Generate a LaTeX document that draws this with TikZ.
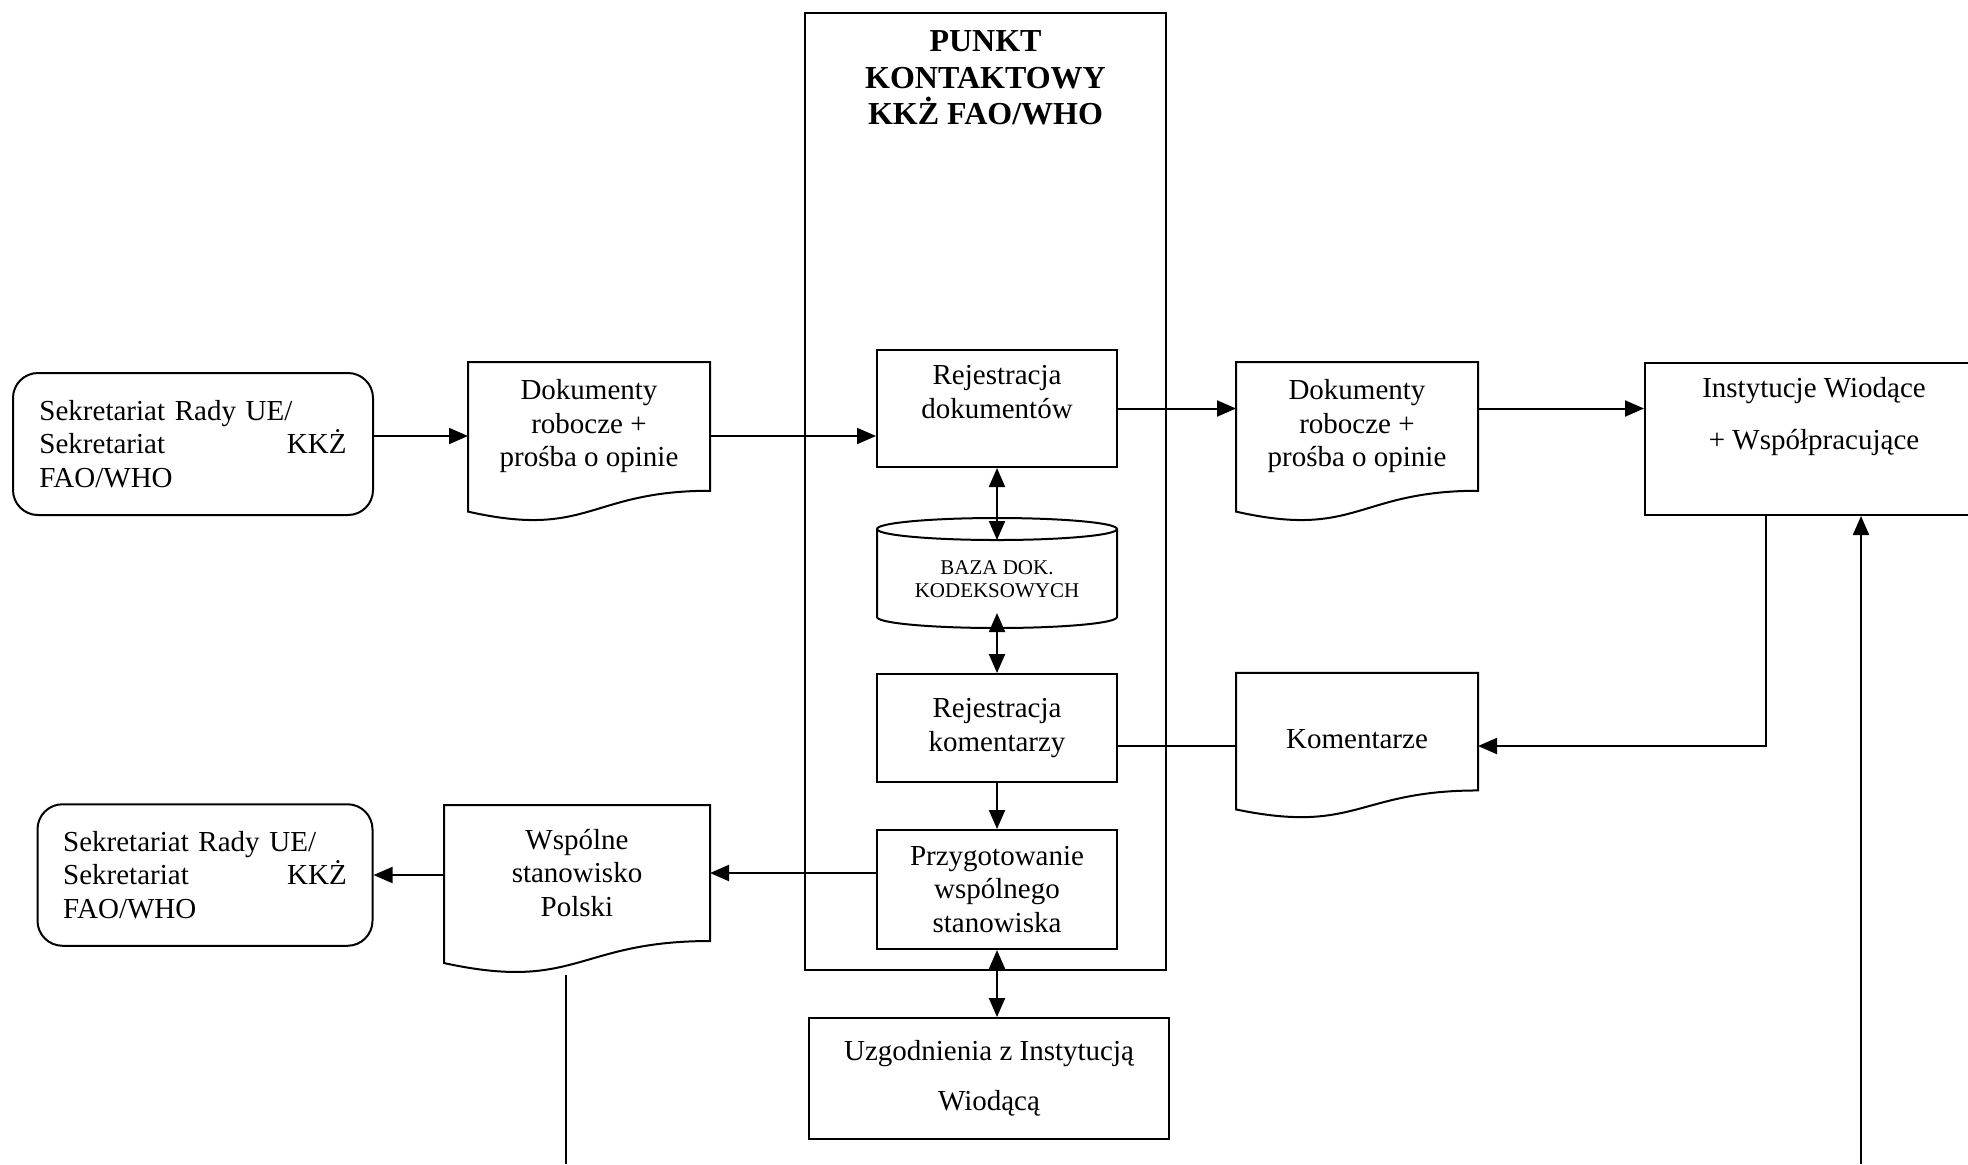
\documentclass[tikz,border=0pt]{standalone}
\usepackage{fontspec}
\setmainfont{Liberation Serif}
\usetikzlibrary{arrows.meta,calc}

\begin{document}
\begin{tikzpicture}[x = 0.5pt, y = -0.5pt, line width = 1pt,
    font = \fontsize{14.5}{16.7}\selectfont,
    arr/.style = {-{Triangle[length=9.5pt,width=8pt]}},
    dwa/.style = {{Triangle[length=9.5pt,width=8pt]}-{Triangle[length=9.5pt,width=8pt]}},
    blok/.style = {draw, rectangle, align=center, inner sep=0pt},
    sekr/.style = {draw, rounded corners=12.5pt, align=left, inner sep=0pt},
    dokument/.style = {rectangle, align=center, inner sep=0pt}]
    \useasboundingbox (0,0) rectangle (1968,1164);

    \node[blok, minimum width=180.5pt, minimum height=478.5pt] (punkt) at (985.5,491.5) {};
    \node[align=center, font=\fontsize{16}{18.2}\selectfont\bfseries] (tytul) at (985.5,78)
        {PUNKT\\KONTAKTOWY\\KKŻ FAO/WHO};

    \node[sekr, minimum width=180pt, minimum height=71pt, text width=153.5pt] (sek1) at (193,444)
        {Sekretariat Rady UE/\\Sekretariat\hfill KKŻ\\FAO/WHO};
    \node[sekr, minimum width=167.5pt, minimum height=70.75pt, text width=141.8pt] (sek2) at (205,875)
        {Sekretariat Rady UE/\\Sekretariat\hfill KKŻ\\FAO/WHO};

    \node[dokument, minimum width=120pt, minimum height=63.35pt] (doca) at (589,426.4)
        {Dokumenty\\robocze +\\prośba o opinie};
    \node[dokument, minimum width=120pt, minimum height=63.35pt] (docb) at (1357,426.4)
        {Dokumenty\\robocze +\\prośba o opinie};
    \node[dokument, minimum width=120pt, minimum height=57.75pt] (koment) at (1357,731.7)
        {\raisebox{-3.5pt}[10pt][0pt]{Komentarze}};
    \node[dokument, minimum width=132pt, minimum height=67pt] (wspolne) at (577,873)
        {Wspólne\\stanowisko\\Polski};
    \foreach \d/\h in {doca/158, docb/158, koment/144, wspolne/167}
        \draw (\d.north west) -- (\d.north east) -- (\d.south east)
        .. controls (\d.south) and ($(\d.south)+(0,0.3056*\h)$) ..
        ($(\d.south west)+(0,0.1319*\h)$) -- cycle;

    \node[blok, minimum width=120pt, minimum height=58.5pt] (rejdok) at (997,408.5)
        {Rejestracja\\dokumentów\\\mbox{}};
    \node[align=center, font=\fontsize{10.5}{11.5}\selectfont] (baza) at (997,579)
        {BAZA DOK.\\KODEKSOWYCH};
    \draw (baza.center) ++(0,-50) ellipse [x radius=60pt, y radius=5.5pt];
    \draw (baza.center) ++(-120,-50) -- ++(0,88)
        arc [start angle=180, end angle=360, x radius=60pt, y radius=5.5pt] -- ++(0,-88);
    \node[blok, minimum width=120pt, minimum height=54pt] (rejkom) at (997,728)
        {Rejestracja\\komentarzy};
    \node[blok, minimum width=120pt, minimum height=59.5pt] (przyg) at (997,889.5)
        {Przygotowanie\\wspólnego\\stanowiska};
    \node[blok, minimum width=180pt, minimum height=60.5pt, font=\fontsize{14.5}{25}\selectfont] (uzg) at (989,1078.5)
        {Uzgodnienia z Instytucją\\Wiodącą};
    \node[blok, minimum width=169pt, minimum height=76pt, font=\fontsize{14.5}{26}\selectfont] (inst) at (1814,439)
        {Instytucje Wiodące\\+ Współpracujące\\\mbox{}};

    \coordinate (bazagora) at (997,540);
    \coordinate (bazadol) at (997,613);
    \coordinate (poziom1) at (0,436);
    \coordinate (poziom2) at (0,746);
    \coordinate (pion) at (1766,0);
    \coordinate (wejscie) at (1861,1164);
    \coordinate (wyjscie) at (566,1164);
    \coordinate (wspdol) at (566,975);

    \draw[arr] (sek1.east |- poziom1) -- (doca.west |- poziom1);
    \draw[arr] (doca.east |- poziom1) -- (rejdok.west |- poziom1);
    \draw[arr] (rejdok.east) -- (rejdok.east -| docb.west);
    \draw[arr] (docb.east |- rejdok.east) -- (inst.west |- rejdok.east);
    \draw[dwa] (rejdok.south) -- (bazagora);
    \draw[dwa] (bazadol) -- (rejkom.north);
    \draw[arr] (rejkom.south) -- (przyg.north);
    \draw[dwa] (przyg.south) -- (przyg.south |- uzg.north);
    \draw (rejkom.east |- poziom2) -- (koment.west |- poziom2);
    \draw[arr] (inst.south -| pion) |- (koment.east |- poziom2);
    \draw[arr] (wejscie) -- (wejscie |- inst.south);
    \draw[arr] (przyg.west |- wspolne.east) -- (wspolne.east);
    \draw[arr] (wspolne.west |- sek2.east) -- (sek2.east);
    \draw (wspdol) -- (wyjscie);
\end{tikzpicture}
\end{document}
